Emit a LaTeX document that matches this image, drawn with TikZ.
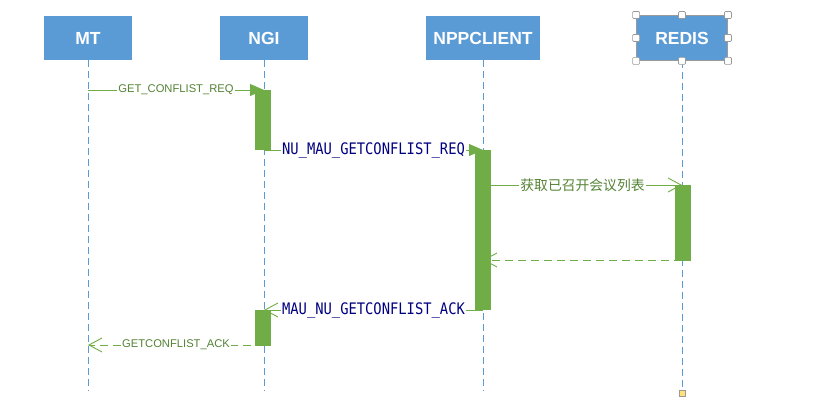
\documentclass[tikz,border=0pt]{standalone}
\usepackage{fontspec}
\setmainfont{Liberation Sans}
\newfontfamily\cjkfont{Noto Sans CJK SC}
\newfontfamily\monofont{DejaVu Sans Mono}
\usetikzlibrary{arrows.meta}
\definecolor{boxblue}{HTML}{5B9BD5}
\definecolor{lineblue}{HTML}{5B9BD5}
\definecolor{bargreen}{HTML}{70AD47}
\definecolor{txtgreen}{HTML}{548235}
\definecolor{navy}{HTML}{000080}
\definecolor{handlegray}{HTML}{9A9A9A}
\definecolor{yel}{HTML}{FFE07A}
\newcommand{\tallmono}[1]{\scalebox{1}[1.15]{#1}}
\tikzset{
  actor/.style={draw=none, fill=boxblue, text=white, font=\bfseries\fontsize{17.5}{19}\selectfont, minimum height=44pt, inner sep=0pt},
  lifeline/.style={draw=lineblue, line width=0.8pt, dash pattern=on 7pt off 4pt},
  bar/.style={draw=none, fill=bargreen, minimum width=16pt, inner sep=0pt},
  sync/.style={draw=bargreen, line width=0.9pt, -{Triangle[length=14pt,width=12pt]}},
  async/.style={draw=bargreen, line width=0.9pt, -{Straight Barb[length=13pt,width=14pt,line width=0.9pt]}},
  ret/.style={async, dash pattern=on 8pt off 5pt},
  glabel/.style={fill=white, text=txtgreen, font=\fontsize{11.2}{13}\selectfont, inner sep=1pt},
  clabel/.style={fill=white, text=txtgreen, font=\cjkfont\fontsize{13.8}{15}\selectfont, inner sep=1pt},
  nlabel/.style={fill=white, text=navy, font=\monofont\fontsize{13.8}{15}\selectfont, inner sep=1pt},
  handle/.style={draw=handlegray, fill=white, line width=0.7pt, minimum size=7pt, inner sep=0pt, rounded corners=1pt},
}
\begin{document}
\begin{tikzpicture}[x=1pt,y=-1pt]
\useasboundingbox (0,0) rectangle (833,419);
% actors
\node[actor, minimum width=88pt] (mt) at (88,38) {MT};
\node[actor, minimum width=88pt] (ngi) at (264,38) {NGI};
\node[actor, minimum width=114pt] (npp) at (483,38) {NPPCLIENT};
\node[actor, minimum width=91pt, minimum height=45pt, draw=handlegray, line width=0.8pt] (redis) at (682,38) {REDIS};
% lifeline ends
\coordinate (mtend) at (88,391);
\coordinate (ngiend) at (264,391);
\coordinate (nppend) at (483,391);
\coordinate (redisend) at (682,390);
\draw[lifeline] (mt.south) -- (mtend);
\draw[lifeline] (ngi.south) -- (ngiend);
\draw[lifeline] (npp.south) -- (nppend);
\draw[lifeline] (redis.south) -- (redisend);
\node[draw=handlegray, fill=yel, line width=0.6pt, minimum size=6pt, inner sep=0pt] (endmark) at (682,393) {};
% message end points
\coordinate (m1s) at (88,90);   \coordinate (m1e) at (264,90);
\coordinate (m2s) at (264,150); \coordinate (m2e) at (483,150);
\coordinate (m3s) at (483,185); \coordinate (m3e) at (682,185);
\coordinate (m4s) at (682,260); \coordinate (m4e) at (483,260);
\coordinate (m5s) at (483,310); \coordinate (m5e) at (264,310);
\coordinate (m6s) at (264,345); \coordinate (m6e) at (88,345);
% messages
\draw[sync] (m1s) -- node[glabel] {GET\_CONFLIST\_REQ} (m1e);
\draw[sync] (m2s) -- node[nlabel] {\tallmono{NU\_MAU\_GETCONFLIST\_REQ}} (m2e);
\draw[async] (m3s) -- node[clabel] {获取已召开会议列表} (m3e);
\draw[ret] (m4s) -- (m4e);
\draw[async] (m5s) -- node[nlabel] {\tallmono{MAU\_NU\_GETCONFLIST\_ACK}} (m5e);
\draw[ret] (m6s) -- node[glabel] {GETCONFLIST\_ACK} (m6e);
% activation bars
\node[bar, minimum height=60pt] (ngibar1) at (263,120) {};
\node[bar, minimum height=36pt] (ngibar2) at (263,328) {};
\node[bar, minimum height=160pt] (nppbar) at (483,230) {};
\node[bar, minimum height=76pt] (redisbar) at (683,223) {};
% selection handles on REDIS
\foreach \a in {north west,north,north east,west,east,south west,south,south east}
  \node[handle] at (redis.\a) {};
\end{tikzpicture}
\end{document}
